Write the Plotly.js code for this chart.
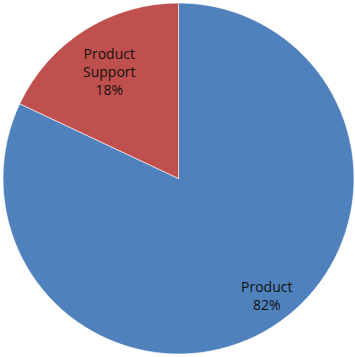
<!DOCTYPE html>
<html>
<head>
<meta charset="utf-8">
<script src="https://cdn.plot.ly/plotly-3.0.1.min.js"></script>
<style>html,body{margin:0;padding:0;background:#fff;}#chart{width:355px;height:357px;}</style>
</head>
<body>
<div id="chart"></div>
<script>
var labels = ["Product", "Product Support"];
var values = [82, 18];
var colors = ["#4F81BD", "#C0504D"];
var displayLabels = ["Product", "Product<br>Support"];

var trace = {
  type: "pie",
  labels: labels,
  values: values,
  text: displayLabels,
  sort: false,
  direction: "clockwise",
  rotation: 0,
  marker: {colors: colors, line: {color: "#ffffff", width: 0.6}},
  textinfo: "none",
  hoverinfo: "label+percent",
  domain: {x: [3/355, 354/355], y: [2/357, 355/357]},
  showlegend: false
};

// label positions (paper fraction) for each slice
var labelPos = [[266/355, 1 - 295/357], [110/355, 1 - 72/357]];
var annotations = labels.map(function(l, i){
  return {
    xref: "paper", yref: "paper",
    x: labelPos[i][0], y: labelPos[i][1],
    text: displayLabels[i] + "<br>" + values[i] + "%",
    showarrow: false,
    font: {family: "Open Sans, Liberation Sans, sans-serif", size: 14, color: "#111111"},
    align: "center", xanchor: "center", yanchor: "middle"
  };
});

Plotly.newPlot("chart", [trace], {
  width: 355, height: 357,
  margin: {l: 0, r: 0, t: 0, b: 0},
  paper_bgcolor: "#ffffff",
  annotations: annotations
}, {displayModeBar: false, staticPlot: true});
</script>
</body>
</html>
